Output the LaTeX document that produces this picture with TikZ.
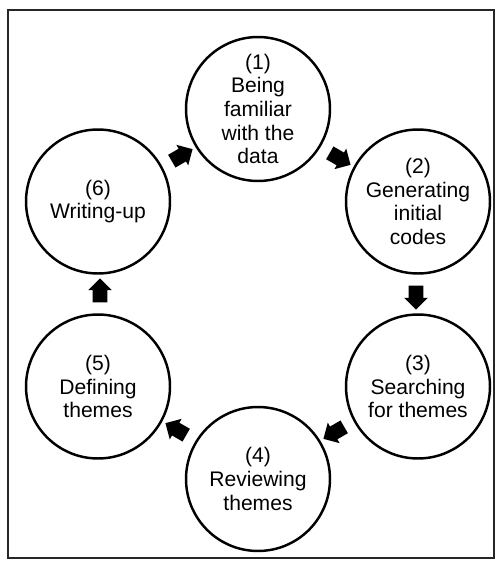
\documentclass[tikz,border=0pt]{standalone}
\usepackage{fontspec}
\setmainfont{Liberation Sans}
\usetikzlibrary{shapes.arrows}

\begin{document}
\begin{tikzpicture}[
    x=0.02cm, y=-0.02cm,
    phase/.style={circle, draw=black, line width=1.4pt, minimum size=2.88cm, inner sep=0pt,
                  align=center, font=\fontsize{12}{13.5}\selectfont},
    flow/.style={single arrow, fill=black, minimum height=0.48cm, minimum width=0.46cm,
                 inner xsep=0pt, inner ysep=0.14cm, single arrow head extend=0.09cm}
]
\useasboundingbox (0,0) rectangle (502,568);
\draw[line width=0.8pt, black!85] (8,10) rectangle (494,558);

% phases
\node[phase] (c1) at (258,109) {(1)\\Being\\familiar\\with the\\data};
\node[phase] (c2) at (418,201.5) {(2)\\Generating\\initial\\codes};
\node[phase] (c3) at (418,386.5) {(3)\\Searching\\for themes};
\node[phase] (c4) at (258,479) {(4)\\Reviewing\\themes};
\node[phase] (c5) at (98,386.5) {(5)\\Defining\\themes};
\node[phase] (c6) at (98,201.5) {(6)\\Writing-up};

% arrows
\node[flow, rotate=-30] (a12) at (337,157) {};
\node[flow, rotate=-90] (a23) at (416,294) {};
\node[flow, rotate=-150] (a34) at (337,431) {};
\node[flow, rotate=150] (a45) at (179,431) {};
\node[flow, rotate=90] (a56) at (100,294) {};
\node[flow, rotate=30] (a61) at (179,157) {};

\end{tikzpicture}
\end{document}
